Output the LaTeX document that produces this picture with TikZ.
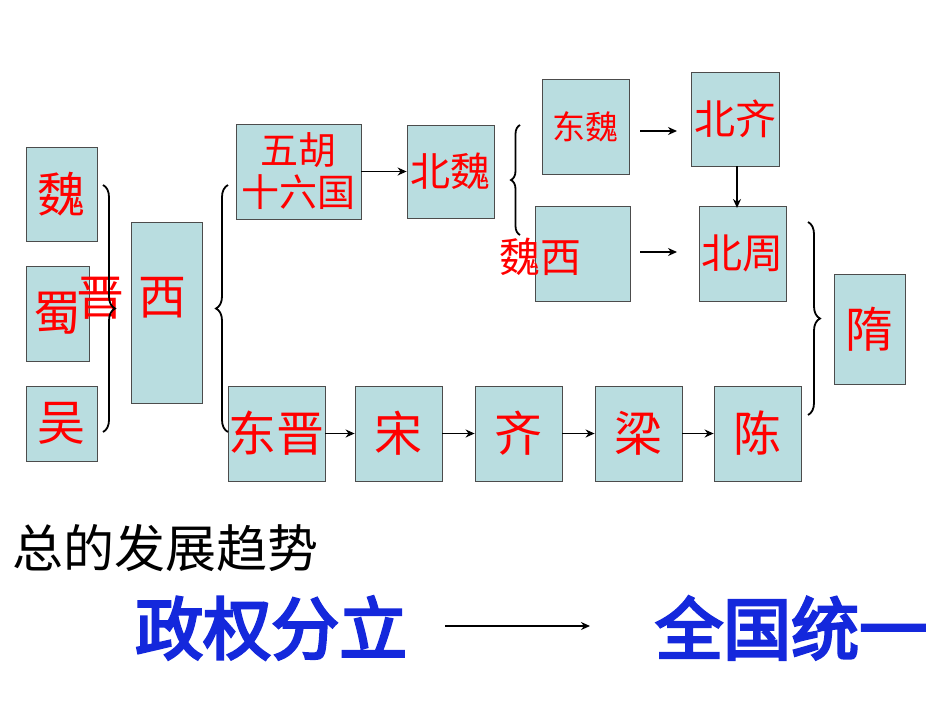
\documentclass[tikz,border=0pt]{standalone}
\usepackage{fontspec}
\newfontfamily\cjk{Noto Sans CJK SC}
\newfontfamily\cjkb[FakeBold=4]{Noto Sans CJK SC}
\usetikzlibrary{arrows.meta,decorations.pathreplacing}
\begin{document}
\begin{tikzpicture}[x=1pt,y=-1pt,
  bx/.style={draw=black!70,fill={rgb,255:red,185;green,221;blue,224},line width=0.8pt},
  rt/.style={text=red,font=\cjk\fontsize{48}{52}\selectfont,inner sep=0pt},
  arr/.style={-{Stealth[length=9pt,width=8pt]},line width=1.5pt},
  br/.style={decorate,decoration={brace,amplitude=12pt},line width=1.8pt}]
\useasboundingbox (0,0) rectangle (950,713);
% boxes
\node[bx,minimum width=71,minimum height=94] (wei) at (61.5,194) {};
\node[bx,minimum width=63,minimum height=95] (shu) at (57.5,313.5) {};
\node[bx,minimum width=71,minimum height=75] (wu) at (61.5,423.5) {};
\node[bx,minimum width=71,minimum height=181] (xi) at (166.5,312.5) {};
\node[bx,minimum width=125,minimum height=95] (whu) at (298.5,171.5) {};
\node[bx,minimum width=87,minimum height=93] (bw) at (450.5,171.5) {};
\node[bx,minimum width=87,minimum height=95] (dw) at (585.5,126.5) {};
\node[bx,minimum width=88,minimum height=94] (bq) at (735,119) {};
\node[bx,minimum width=95,minimum height=95] (xw) at (582.5,253.5) {};
\node[bx,minimum width=87,minimum height=95] (bz) at (742.5,253.5) {};
\node[bx,minimum width=71,minimum height=110] (sui) at (869.5,329) {};
\node[bx,minimum width=97,minimum height=95] (dj) at (276.5,433.5) {};
\node[bx,minimum width=87,minimum height=95] (song) at (398.5,433.5) {};
\node[bx,minimum width=87,minimum height=95] (qi) at (518.5,433.5) {};
\node[bx,minimum width=87,minimum height=95] (liang) at (638.5,433.5) {};
\node[bx,minimum width=87,minimum height=95] (chen) at (757.5,433.5) {};
% texts
\node[rt] (t1) at (wei) {魏};
\node[rt] (t2) at (shu) {蜀};
\node[rt] (t3) at (wu) {吴};
\node[rt] (t4) at (162,298) {西};
\node[rt] (t5) at (100,298) {晋};
\node[rt,font=\cjk\fontsize{38}{42}\selectfont,align=center] (t6) at (whu) {五胡\\十六国};
\node[rt,font=\cjk\fontsize{40}{44}\selectfont] (t7) at (bw) {北魏};
\node[rt,font=\cjk\fontsize{33}{36}\selectfont] (t8) at (dw) {东魏};
\node[rt,font=\cjk\fontsize{41}{44}\selectfont] (t9) at (bq) {北齐};
\node[rt,font=\cjk\fontsize{41}{44}\selectfont] (t10) at (540,257) {魏西};
\node[rt,font=\cjk\fontsize{41}{44}\selectfont] (t11) at (bz) {北周};
\node[rt] (t12) at (sui) {隋};
\node[rt] (t13) at (dj) {东晋};
\node[rt] (t14) at (song) {宋};
\node[rt] (t15) at (qi) {齐};
\node[rt] (t16) at (liang) {梁};
\node[rt] (t17) at (chen) {陈};
\node[inner sep=0pt,anchor=west,font=\cjk\fontsize{51}{55}\selectfont] (t18) at (12,548) {总的发展趋势};
\node[inner sep=0pt,anchor=west,text={rgb,255:red,20;green,40;blue,220},font=\cjkb\fontsize{68}{72}\selectfont] (t19) at (135,628) {政权分立};
\node[inner sep=0pt,anchor=west,text={rgb,255:red,20;green,40;blue,220},font=\cjkb\fontsize{68}{72}\selectfont] (t20) at (655,628) {全国统一};
\coordinate (a1) at (445,626); \coordinate (a2) at (590,626);
\draw[arr] (a1) -- (a2);
% arrows
\draw[arr] (whu.east) -- (bw.west);
\coordinate (e1) at (640,131); \coordinate (e2) at (677,131);
\draw[arr] (e1) -- (e2);
\coordinate (e3) at (640,252); \coordinate (e4) at (677,252);
\draw[arr] (e3) -- (e4);
\draw[arr] (bq.south -| 737,0) -- (737,208);
\draw[arr] (dj.east) -- (song.west);
\draw[arr] (song.east) -- (qi.west);
\draw[arr] (qi.east) -- (liang.west);
\draw[arr] (liang.east) -- (chen.west);
% braces
\coordinate (b1) at (103,185); \coordinate (b2) at (103,432);
\draw[br] (b1) -- (b2);
\coordinate (c1) at (228,432); \coordinate (c2) at (228,185);
\draw[br] (c1) -- (c2);
\coordinate (d1) at (520,235); \coordinate (d2) at (520,125);
\draw[br,decoration={amplitude=9pt}] (d1) -- (d2);
\coordinate (f1) at (808,222); \coordinate (f2) at (808,415);
\draw[br] (f1) -- (f2);
\end{tikzpicture}
\end{document}
